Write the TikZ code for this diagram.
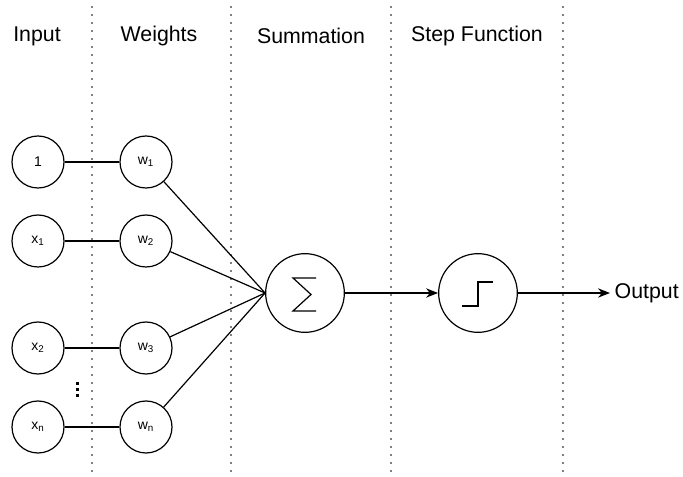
\documentclass[tikz,border=0pt]{standalone}
\usepackage{fontspec}
\setmainfont{Liberation Sans}
\usetikzlibrary{arrows.meta}
\tikzset{
  neuron/.style={draw, circle, line width=0.9pt, minimum size=39pt, inner sep=0pt, font=\fontsize{10.5}{12}\selectfont},
  bignode/.style={draw, circle, line width=0.9pt, minimum size=59pt, inner sep=0pt},
  header/.style={font=\fontsize{16}{19}\selectfont},
  sep/.style={gray, line width=1.5pt, dash pattern=on 1.5pt off 4.5pt},
  link/.style={line width=0.9pt},
}
\begin{document}
\begin{tikzpicture}[x=0.75pt, y=-0.75pt]
    \useasboundingbox (0,0) rectangle (683,477);

    % Column separators
    \foreach \x in {92,231,391,563} \draw[sep] (\x,6) -- (\x,472);

    % Headers
    \node[header] (hin) at (37,36) {Input};
    \node[header] (hw) at (159,36) {Weights};
    \node[header] (hsum) at (311,36) {Summation};
    \node[header] (hstep) at (477,36) {Step Function};

    % Inputs and weights
    \node[neuron] (x0) at (38,162) {1};
    \node[neuron] (x1) at (38,241) {x\textsubscript{1}};
    \node[neuron] (x2) at (38,348) {x\textsubscript{2}};
    \node[neuron] (xn) at (38,427) {x\textsubscript{n}};
    \foreach \y in {382,388,394} \fill (76,\y) rectangle ++(3,3);

    \node[neuron] (w1) at (146,162) {w\textsubscript{1}};
    \node[neuron] (w2) at (146,241) {w\textsubscript{2}};
    \node[neuron] (w3) at (146,348) {w\textsubscript{3}};
    \node[neuron] (wn) at (146,427) {w\textsubscript{n}};

    \draw[link] (x0) -- (w1);
    \draw[link] (x1) -- (w2);
    \draw[link] (x2) -- (w3);
    \draw[link] (xn) -- (wn);

    % Summation
    \node[bignode] (sum) at (305,293) {};
    \draw[line width=0.9pt] ([shift={(11,-15)}]sum.center) -- ++(-23,0) -- ++(18,16.5) -- ++(-18,16.5) -- ++(23,0);
    \foreach \w in {w1,w2,w3,wn} \draw[link] (\w) -- (sum.west);

    % Step function
    \node[bignode] (step) at (478,293) {};
    \draw[line width=0.9pt] ([shift={(-16,13)}]step.center) -- ++(16,0) -- ++(0,-24) -- ++(15,0);

    \draw[link, -{Stealth[length=9pt, width=7pt]}] (sum) -- (step);

    % Output
    \node[header, anchor=west] (out) at (610,293) {Output};
    \draw[link, -{Stealth[length=9pt, width=7pt]}] (step) -- (out);
\end{tikzpicture}
\end{document}
